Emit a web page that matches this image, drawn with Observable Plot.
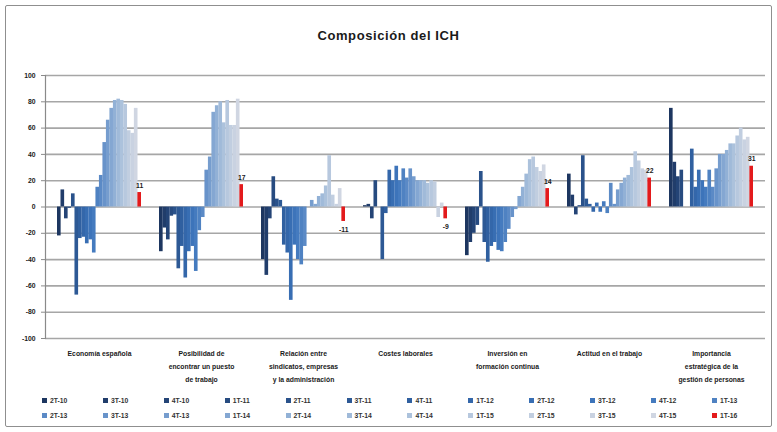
<!DOCTYPE html>
<html><head><meta charset="utf-8">
<script src="https://cdn.jsdelivr.net/npm/d3@7"></script>
<script src="https://cdn.jsdelivr.net/npm/@observablehq/plot@0.6"></script>
<style>
body{margin:0;background:#fff;font-family:"Liberation Sans",Arial,sans-serif;}
#wrap{position:relative;width:777px;height:432px;overflow:hidden;background:#fff;}
#frame{position:absolute;left:5px;top:5px;width:765px;height:420px;border:1.5px solid #8f8f8f;border-radius:2px;}
#title{position:absolute;left:0;width:777px;top:28px;text-align:center;font-weight:bold;font-size:13px;letter-spacing:0.6px;color:#1a1a1a;}
#chart{position:absolute;left:0;top:0;}
#legend{position:absolute;left:0;top:0;width:777px;}
.item{position:absolute;font-size:6.8px;font-weight:bold;color:#333;white-space:nowrap;line-height:8px;}
.sw{display:inline-block;width:5px;height:5px;margin-right:3px;vertical-align:middle;position:relative;top:-1px;}
</style></head><body>
<div id="wrap"><div id="frame"></div><div id="title">Composición del ICH</div><div id="chart"></div><div id="legend"></div></div>
<script>
const categories = ["Economía española","Posibilidad de encontrar un puesto de trabajo","Relación entre sindicatos, empresas y la administración","Costes laborales","Inversión en formación continua","Actitud en el trabajo","Importancia estratégica de la gestión de personas"];
const categoryLabels = ["Economía española","Posibilidad de\nencontrar un puesto\nde trabajo","Relación entre\nsindicatos, empresas\ny la administración","Costes laborales","Inversión en\nformación continua","Actitud en el trabajo","Importancia\nestratégica de la\ngestión de personas"];
const series = ["2T-10","3T-10","4T-10","1T-11","2T-11","3T-11","4T-11","1T-12","2T-12","3T-12","4T-12","1T-13","2T-13","3T-13","4T-13","1T-14","2T-14","3T-14","4T-14","1T-15","2T-15","3T-15","4T-15","1T-16"];
const economia    = [-22, 13, -9, -1, 10, -67, -24, -23, -28, -25, -35, 15, 24, 49, 66, 75, 81, 82, 81, 78, 58, 56, 75, 11];
const posibilidad = [-34, -16, -25, -7, -6, -47, -30, -54, -34, -30, -49, -18, -8, 28, 38, 72, 77, 80, 64, 81, 62, 62, 82, 17];
const relacion    = [-40, -52, -9, 23, 6, 5, -29, -35, -71, -29, -40, -44, -30, 0, 5, 2, 8, 10, 16, 39, 9, 2, 14, -11];
const costes      = [1, 2, -9, 20, 0, -40, -5, 28, 20, 31, 20, 29, 22, 29, 23, 20, 20, 20, 18, 20, 19, -8, 3, -9];
const inversion   = [-37, -27, -20, -14, 27, -27, -42, -30, -27, -33, -34, -27, -17, -8, -2, 8, 15, 25, 36, 38, 30, 27, 32, 14];
const actitud     = [25, 9, -6, 1, 39, 6, 2, -4, 3, -4, 4, -5, 18, 2, 13, 18, 22, 24, 30, 42, 35, 29, 28, 22];
const importancia = [75, 34, 23, 28, 0, 0, 44, 15, 28, 20, 15, 28, 15, 29, 40, 40, 43, 48, 48, 54, 60, 51, 53, 31];
const yTicks = [100, 80, 60, 40, 20, 0, -20, -40, -60, -80, -100];
const palette = ["#1d3660","#213d6b","#244476","#274b80","#2a528b","#2d5995","#3060a0","#3467aa","#386eb3","#3d74ba","#457bbf","#4f82c2","#5b8ac6","#6893ca","#769dce","#84a7d2","#92b1d6","#a0bad9","#acc2dc","#b7c8de","#c1cee0","#c9d2e1","#d0d6e2","#e31a1c"];

const groups = [economia, posibilidad, relacion, costes, inversion, actitud, importancia];
const rows = [];
categories.forEach((c, ci) => groups[ci].forEach((v, si) => rows.push({category: c, series: series[si], si, value: v})));

const W = 777, H = 390, mL = 45, mR = 12, mT = 75, mB = 52;
const pIn = 0.18, pOut = 0.11;
const xs = Plot.scale({x: {type: "band", domain: categories, range: [mL, W - mR], paddingInner: pIn, paddingOuter: pOut}});
const n = series.length;
const w = xs.bandwidth / n;
const labelOf = new Map(categories.map((c, i) => [c, categoryLabels[i]]));

const bars = series.map((s, si) => Plot.barY(rows.filter(d => d.si === si), {
  x: "category", y: "value", fill: "series",
  insetLeft: si * w, insetRight: (n - 1 - si) * w
}));
const last = rows.filter(d => d.si === n - 1);
const dxLabel = (n - 1) / 2 * w;

const chart = Plot.plot({
  width: W, height: H, marginLeft: mL, marginRight: mR, marginTop: mT, marginBottom: mB,
  style: {fontFamily: "Liberation Sans, Arial, sans-serif", fontSize: "6.8px", fontWeight: "bold", color: "#222", background: "transparent"},
  x: {type: "band", domain: categories, paddingInner: pIn, paddingOuter: pOut, axis: null, label: null},
  y: {domain: [-100, 100], axis: null, label: null},
  color: {domain: series, range: palette},
  marks: [
    Plot.ruleY(yTicks, {stroke: "#a6a6a6", strokeWidth: 1.6}),
    Plot.frame({anchor: "left", stroke: "#8a8a8a", strokeWidth: 1.2}),
    Plot.axisY(yTicks, {tickSize: 4, tickPadding: 6, stroke: "#8a8a8a", fill: "#1a1a1a", label: null, tickFormat: d => String(d)}),
    Plot.axisX({tickSize: 0, tickPadding: 8, lineAnchor: "top", lineHeight: 1.95, fill: "#1a1a1a", label: null, tickFormat: c => labelOf.get(c)}),
    ...bars,
    Plot.text(last.filter(d => d.value >= 0), {x: "category", y: "value", text: d => String(d.value), dx: dxLabel, dy: -7, fill: "#1a1a1a"}),
    Plot.text(last.filter(d => d.value < 0), {x: "category", y: "value", text: d => String(d.value), dx: dxLabel, dy: 8, fill: "#1a1a1a"})
  ]
});
document.getElementById("chart").appendChild(chart);

const legend = document.getElementById("legend");
series.forEach((s, i) => {
  const row = Math.floor(i / 12), col = i % 12;
  const el = document.createElement("div");
  el.className = "item";
  el.style.left = (42 + col * 60.9) + "px";
  el.style.top = (397 + row * 15) + "px";
  const sw = document.createElement("span");
  sw.className = "sw";
  sw.style.background = palette[i];
  el.appendChild(sw);
  el.appendChild(document.createTextNode(s));
  legend.appendChild(el);
});
</script>
</body></html>
